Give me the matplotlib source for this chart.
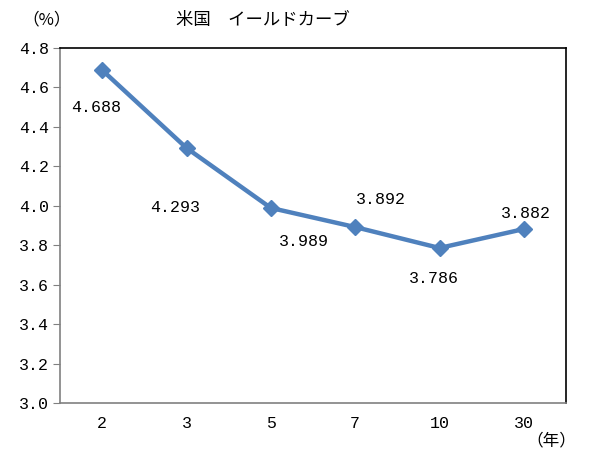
import matplotlib.pyplot as plt

plt.rcParams['font.family'] = ['Noto Sans CJK JP', 'DejaVu Sans']

maturities = ['2', '3', '5', '7', '10', '30']
yields = [4.688, 4.293, 3.989, 3.892, 3.786, 3.882]
# where each value label sits (category index, value)
label_x = [-0.07, 0.86, 2.39, 3.31, 3.93, 5.03]
label_y = [4.50, 3.99, 3.82, 4.03, 3.63, 3.96]

num_font = 'Liberation Mono'

fig = plt.figure(figsize=(5.89, 4.59), dpi=100)
ax = fig.add_axes([60 / 589, 1 - 403 / 459, 506 / 589, 355 / 459])

pos = list(range(len(maturities)))
ax.plot(pos, yields, color='#4F81BD', linewidth=3.2, marker='D', markersize=8,
        markerfacecolor='#4F81BD', markeredgecolor='#4F81BD')

for lx, ly, v in zip(label_x, label_y, yields):
    ax.text(lx, ly, f'{v:.3f}', ha='center', va='center', fontsize=12,
            family=num_font)

ax.set_xlim(-0.5, 5.5)
ax.set_ylim(3.0, 4.8)
ax.set_yticks([3.0 + 0.2 * i for i in range(10)])
ax.set_yticklabels([f'{3.0 + 0.2 * i:.1f}' for i in range(10)], fontsize=12,
                   family=num_font)
ax.set_xticks(pos)
ax.set_xticklabels(maturities, fontsize=12, family=num_font)
ax.tick_params(axis='x', length=0, pad=9)
ax.tick_params(axis='y', length=5, color='#808080', pad=3)

ax.spines['left'].set_color('#808080')
ax.spines['bottom'].set_color('#808080')
ax.spines['top'].set_color('black')
ax.spines['right'].set_color('black')
for s in ax.spines.values():
    s.set_linewidth(1.2)

fig.text(263 / 589, 1 - 20 / 459, '米国　イールドカーブ', ha='center', va='center', fontsize=12.5)
fig.text(47 / 589, 1 - 20 / 459, '（%）', ha='center', va='center', fontsize=12)
fig.text(551 / 589, 1 - 441 / 459, '（年）', ha='center', va='center', fontsize=12)

fig.savefig('out.png', dpi=100)
